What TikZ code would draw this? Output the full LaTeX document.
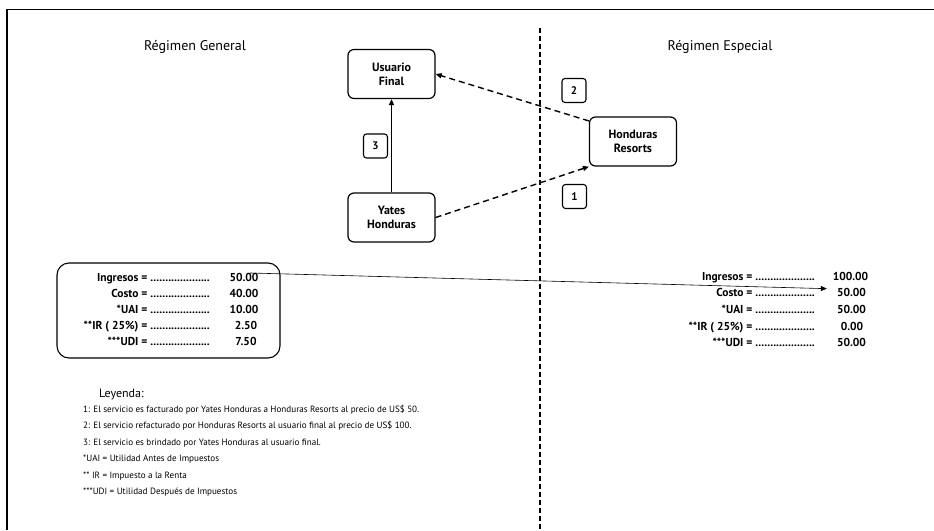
\documentclass[tikz,border=0pt]{standalone}
\usepackage{fontspec}
\setmainfont{PT Sans}
\usetikzlibrary{arrows.meta,calc}
\newcommand{\dotlead}{....................}
\tikzset{
  entity/.style={draw, line width=1.2pt, rounded corners=6pt, minimum width=87pt,
    minimum height=49pt, align=center, inner sep=0pt, font=\bfseries\fontsize{12}{14}\selectfont},
  numbox/.style={draw, line width=1.1pt, rounded corners=3pt, minimum size=24pt,
    inner sep=0pt, font=\bfseries\fontsize{11}{12}\selectfont},
  lab/.style={anchor=base east, inner sep=0pt, font=\bfseries\fontsize{11.5}{13}\selectfont},
  val/.style={anchor=base, inner sep=0pt, font=\bfseries\fontsize{11.5}{13}\selectfont},
  leg/.style={anchor=base west, inner sep=0pt, font=\fontsize{9.1}{11}\selectfont},
  title/.style={inner sep=0pt, font=\fontsize{14}{16}\selectfont},
  flow/.style={line width=1.4pt, -{Triangle[length=6pt,width=5pt]}},
  dflow/.style={flow, dash pattern=on 6pt off 4pt},
}
\begin{document}
\begin{tikzpicture}[x=1pt,y=-1pt]
\path[use as bounding box, fill=white] (0,0) rectangle (934,530);
% frame
\coordinate (ftr) at (934,9.5);
\coordinate (ftl) at (7,9.5);
\coordinate (fbl) at (7,530);
\draw[line width=1.6pt] (ftr) -- (ftl) -- (fbl);
% divider
\coordinate (dtop) at (540,28);
\coordinate (dbot) at (540,530);
\draw[line width=1.5pt, dash pattern=on 5pt off 3pt] (dtop) -- (dbot);
% titles
\node[title] (tg) at (195,47) {Régimen General};
\node[title] (te) at (720,47) {Régimen Especial};
% entities
\node[entity] (uf) at (391.5,74) {Usuario\\Final};
\node[entity] (yh) at (391.5,217.5) {Yates\\Honduras};
\node[entity] (hr) at (633,141.5) {Honduras\\Resorts};
\draw[flow] (yh) -- (uf);
\draw[dflow] (hr.155) -- (uf.east);
\draw[dflow] (yh.east) -- (hr.south west);
\node[numbox] (n3) at (375.5,146) {3};
\node[numbox] (n2) at (574,90.5) {2};
\node[numbox] (n1) at (574.5,196.5) {1};
% left table
\node[draw, line width=1.1pt, rounded corners=12pt, minimum width=223pt, minimum height=95pt] (lt) at (168.5,310.5) {};
\node[lab] (ll1) at (210,281) {Ingresos = \dotlead};
\node[lab] (ll2) at (210,297.2) {Costo = \dotlead};
\node[lab] (ll3) at (210,313.4) {*UAI = \dotlead};
\node[lab] (ll4) at (210,329.6) {**IR ( 25\%) = \dotlead};
\node[lab] (ll5) at (210,345.8) {***UDI = \dotlead};
\node[val] (lv1) at (244,281) {50.00};
\node[val] (lv2) at (244,297.2) {40.00};
\node[val] (lv3) at (244,313.4) {10.00};
\node[val] (lv4) at (246,329.6) {2.50};
\node[val] (lv5) at (246,345.8) {7.50};
% right table
\node[lab] (rl1) at (815,280) {Ingresos = \dotlead};
\node[lab] (rl2) at (815,296.7) {Costo = \dotlead};
\node[lab] (rl3) at (815,313.4) {*UAI = \dotlead};
\node[lab] (rl4) at (815,330.1) {**IR ( 25\%) = \dotlead};
\node[lab] (rl5) at (815,346.8) {***UDI = \dotlead};
\node[val] (rv1) at (850.5,280) {100.00};
\node[val] (rv2) at (851.5,296.7) {50.00};
\node[val] (rv3) at (851.5,313.4) {50.00};
\node[val] (rv4) at (852,330.1) {0.00};
\node[val] (rv5) at (851.5,346.8) {50.00};
\draw[line width=0.6pt, -{Triangle[length=6pt,width=5pt]}] ($(lv1.center)!0.4!(lv1.east)+(0,-4)$) -- ($(rv2.west)+(-10,-4)$);
% legend
\node[anchor=base west, inner sep=0pt, font=\fontsize{12}{14}\selectfont] (ley) at (99,397) {Leyenda:};
\node[leg] (lg1) at (83,412) {1: El servicio es facturado por Yates Honduras a Honduras Resorts al precio de US\$ 50.};
\node[leg] (lg2) at (83,428.5) {2: El servicio refacturado por Honduras Resorts al usuario final al precio de US\$ 100.};
\node[leg] (lg3) at (83,445) {3: El servicio es brindado por Yates Honduras al usuario final.};
\node[leg] (lg4) at (83,461.5) {*UAI = Utilidad Antes de Impuestos};
\node[leg] (lg5) at (83,478) {** IR = Impuesto a la Renta};
\node[leg] (lg6) at (83,494.5) {***UDI = Utilidad Después de Impuestos};
\end{tikzpicture}
\end{document}
